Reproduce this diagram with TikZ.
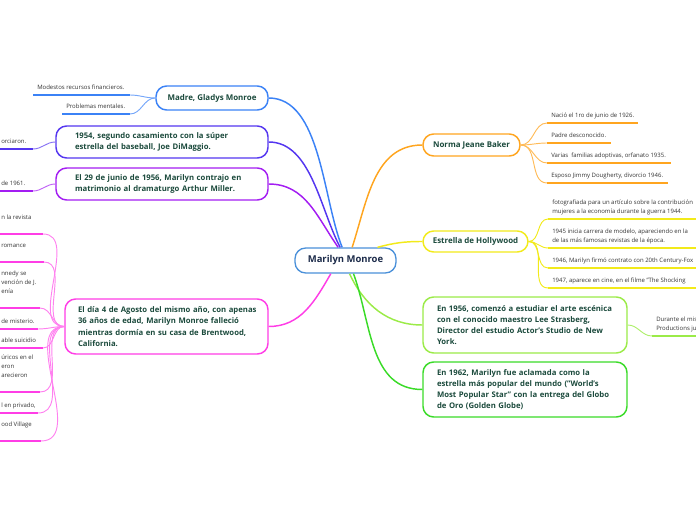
\documentclass[tikz,border=0pt]{standalone}
\usepackage{fontspec}
\setmainfont{Open Sans}
\definecolor{cblue}{HTML}{3B82F6}
\definecolor{cindigo}{HTML}{5436F0}
\definecolor{cpurple}{HTML}{A31DF2}
\definecolor{cmag}{HTML}{FF3DE6}
\definecolor{corange}{HTML}{FFA51F}
\definecolor{cyellow}{HTML}{F2EA1A}
\definecolor{clgreen}{HTML}{9BEB48}
\definecolor{cgreen}{HTML}{3ADB28}
\definecolor{cctr}{HTML}{4A90D9}
\definecolor{brtext}{HTML}{1B4A3C}
\definecolor{ctrtext}{HTML}{1C2B4A}
\definecolor{leaftext}{HTML}{333333}
\newcommand{\myline}[1]{\mbox{#1}}
\begin{document}
\begin{tikzpicture}[x=0.75pt,y=-0.75pt,
  branchbox/.style={draw=#1, line width=1.1pt, rounded corners=8pt, fill=white, text=brtext,
    font=\bfseries\fontsize{5.8}{8.4}\selectfont, inner sep=0pt},
  leafnode/.style={text=leaftext, font=\fontsize{4.5}{6.75}\selectfont, inner xsep=3pt,
    inner ysep=2.75pt, text depth=1pt, align=left, anchor=south west},
  conn/.style={draw=#1, line width=1.1pt},
  subconn/.style={draw=#1, line width=0.7pt},
  ul/.style={draw=#1, line width=1.9pt}]
\useasboundingbox (0,0) rectangle (696,520);

% central
\node[draw=cctr, line width=1pt, rounded corners=8pt, fill=white, text=ctrtext,
  font=\bfseries\fontsize{7.1}{9}\selectfont, minimum width=75.75pt, minimum height=18.75pt,
  inner sep=0pt] (c) at (345.5,260.5) {Marilyn Monroe};

% left branches
\node[branchbox=cblue, minimum width=84pt, minimum height=18pt, align=center, font=\bfseries\fontsize{5.95}{8.4}\selectfont] (madre) at (212,98) {Madre, Gladys Monroe};
\node[branchbox=cindigo, minimum height=24pt, text width=130.5pt, inner xsep=14.25pt, align=left] (b2) at (162,142)
  {\myline{1954, segundo casamiento con la súper}\\\myline{estrella del baseball, Joe DiMaggio.}};
\node[branchbox=cpurple, minimum height=24pt, text width=130.5pt, inner xsep=14.25pt, align=left] (b3) at (162,184)
  {\myline{El 29 de junio de 1956, Marilyn contrajo en}\\\myline{matrimonio al dramaturgo Arthur Miller.}};
\node[branchbox=cmag, minimum height=41.25pt, text width=132.75pt, inner xsep=9.75pt, align=left] (b4) at (166.5,326.5)
  {\myline{El día 4 de Agosto del mismo año, con apenas}\\\myline{36 años de edad, Marilyn Monroe falleció}\\\myline{mientras dormía en su casa de Brentwood,}\\\myline{California.}};

% right branches
\node[branchbox=corange, minimum width=72.75pt, minimum height=16.5pt, align=center, font=\bfseries\fontsize{5.95}{8.4}\selectfont] (norma) at (471.5,145) {Norma Jeane Baker};
\node[branchbox=cyellow, minimum width=78.75pt, minimum height=15.75pt, align=center, font=\bfseries\fontsize{5.95}{8.4}\selectfont] (estrella) at (475.5,241.5) {Estrella de Hollywood};
\node[branchbox=clgreen, minimum height=42pt, text width=132pt, inner xsep=10.5pt, align=left] (e56) at (525,325)
  {\myline{En 1956, comenzó a estudiar el arte escénica}\\\myline{con el conocido maestro Lee Strasberg,}\\\myline{Director del estudio Actor's Studio de New}\\\myline{York.}};
\node[branchbox=cgreen, minimum height=41.25pt, text width=132pt, inner xsep=10.5pt, align=left] (e62) at (525,389.5)
  {\myline{En 1962, Marilyn fue aclamada como la}\\\myline{estrella más popular del mundo ("World's}\\\myline{Most Popular Star" con la entrega del Globo}\\\myline{de Oro (Golden Globe)}};

% main connectors
\draw[conn=cblue] (madre.east) to[out=0,in=112,looseness=0.8] ([xshift=-2.5pt]c.north);
\draw[conn=cindigo] (b2.east) to[out=0,in=118,looseness=0.85] ([xshift=-4pt]c.north);
\draw[conn=cpurple] (b3.east) to[out=0,in=125] ([xshift=-5.5pt]c.north);
\draw[conn=cmag] (b4.east) to[out=0,in=240] ([xshift=-11pt]c.south);
\draw[conn=corange] ([xshift=5pt]c.north) to[out=72,in=180] (norma.west);
\draw[conn=cyellow] ([xshift=24pt]c.north) to[out=15,in=180] (estrella.west);
\draw[conn=clgreen] ([xshift=3pt]c.south) to[out=-65,in=180] (e56.west);
\draw[conn=cgreen] ([xshift=6pt]c.south) to[out=-70,in=180] (e62.west);

% Madre leaves
\node[leafnode] (m1) at (33,95) {Modestos recursos financieros.};
\coordinate (m1e) at (130,95);
\node[leafnode] (m2) at (62,114) {Problemas mentales.};
\coordinate (m2e) at (130,114);
\foreach \n in {m1,m2}{
  \draw[ul=cblue] (\n.south west) -- (\n e);
  \draw[subconn=cblue!70] (madre.west) to[out=180,in=0] (\n e);
}
% b2, b3 leaves
\node[leafnode] (k1) at (-3,149) {orciaron.};
\coordinate (k1e) at (33,149);
\draw[ul=cindigo] (k1.south west) -- (k1e);
\draw[subconn=cindigo!70] (b2.west) to[out=180,in=0] (k1e);
\node[leafnode] (p1) at (-3,191) {de 1961.};
\coordinate (p1e) at (33,191);
\draw[ul=cpurple] (p1.south west) -- (p1e);
\draw[subconn=cpurple!70] (b3.west) to[out=180,in=0] (p1e);

% b4 leaves
\node[leafnode] (g1) at (-3,234) {n la revista\\\mbox{}};
\coordinate (g1e) at (43,234);
\node[leafnode] (g2) at (-3,262) {romance\\\mbox{}};
\coordinate (g2e) at (44,262);
\node[leafnode] (g3) at (-3,308) {nnedy se\\vención de J.\\enía\\\mbox{}};
\coordinate (g3e) at (40,308);
\node[leafnode] (g4) at (-3,329) {de misterio.};
\coordinate (g4e) at (38,329);
\node[leafnode] (g5) at (-3,348) {able suicidio};
\coordinate (g5e) at (43,348);
\node[leafnode] (g6) at (-3,392) {úricos en el\\eron\\arecieron\\\mbox{}};
\coordinate (g6e) at (40,392);
\node[leafnode] (g7) at (-3,413) {l en privado,};
\coordinate (g7e) at (38,413);
\node[leafnode] (g8) at (-3,441) {ood Village\\\mbox{}};
\coordinate (g8e) at (41,441);
\foreach \n in {g1,g2,g3,g4,g5,g6,g7,g8}{
  \draw[ul=cmag] (\n.south west) -- (\n e);
  \draw[subconn=cmag!65] (b4.west) to[out=180,in=0] (\n e);
}

% Norma leaves
\node[leafnode] (n1) at (547,123) {Nació el 1ro de junio de 1926.};
\coordinate (n1e) at (638,123);
\node[leafnode] (n2) at (547,143) {Padre desconocido.};
\coordinate (n2e) at (611,143);
\node[leafnode] (n3) at (547,163) {Varias \ familias adoptivas, orfanato 1935.};
\coordinate (n3e) at (671,163);
\node[leafnode] (n4) at (547,183) {Esposo Jimmy Dougherty, divorcio 1946.};
\coordinate (n4e) at (668,183);
\foreach \n in {n1,n2,n3,n4}{
  \draw[ul=corange] (\n.south west) -- (\n e);
  \draw[subconn=corange!75] (norma.east) to[out=0,in=180] (\n.south west);
}

% Estrella leaves
\node[leafnode] (h1) at (548,219) {fotografiada para un artículo sobre la contribución\\mujeres a la economía durante la guerra 1944.};
\coordinate (h1e) at (700,219);
\node[leafnode] (h2) at (548,248) {1945 inicia carrera de modelo, apareciendo en la\\de las más famosas revistas de la época.};
\coordinate (h2e) at (700,248);
\node[leafnode] (h3) at (548,268) {1946, Marilyn firmó contrato con 20th Century-Fox};
\coordinate (h3e) at (700,268);
\node[leafnode] (h4) at (548,288) {1947, aparece en cine, en el filme "The Shocking};
\coordinate (h4e) at (700,288);
\foreach \n in {h1,h2,h3,h4}{
  \draw[ul=cyellow] (\n.south west) -- (\n e);
  \draw[subconn=cyellow] (estrella.east) to[out=0,in=180] (\n.south west);
}

% e56 leaf
\node[leafnode] (q1) at (652,336) {Durante el mis\\Productions ju};
\coordinate (q1e) at (700,336);
\draw[ul=clgreen] (q1.south west) -- (q1e);
\draw[subconn=clgreen!80] (e56.east) to[out=0,in=180] (q1.south west);
\end{tikzpicture}
\end{document}
